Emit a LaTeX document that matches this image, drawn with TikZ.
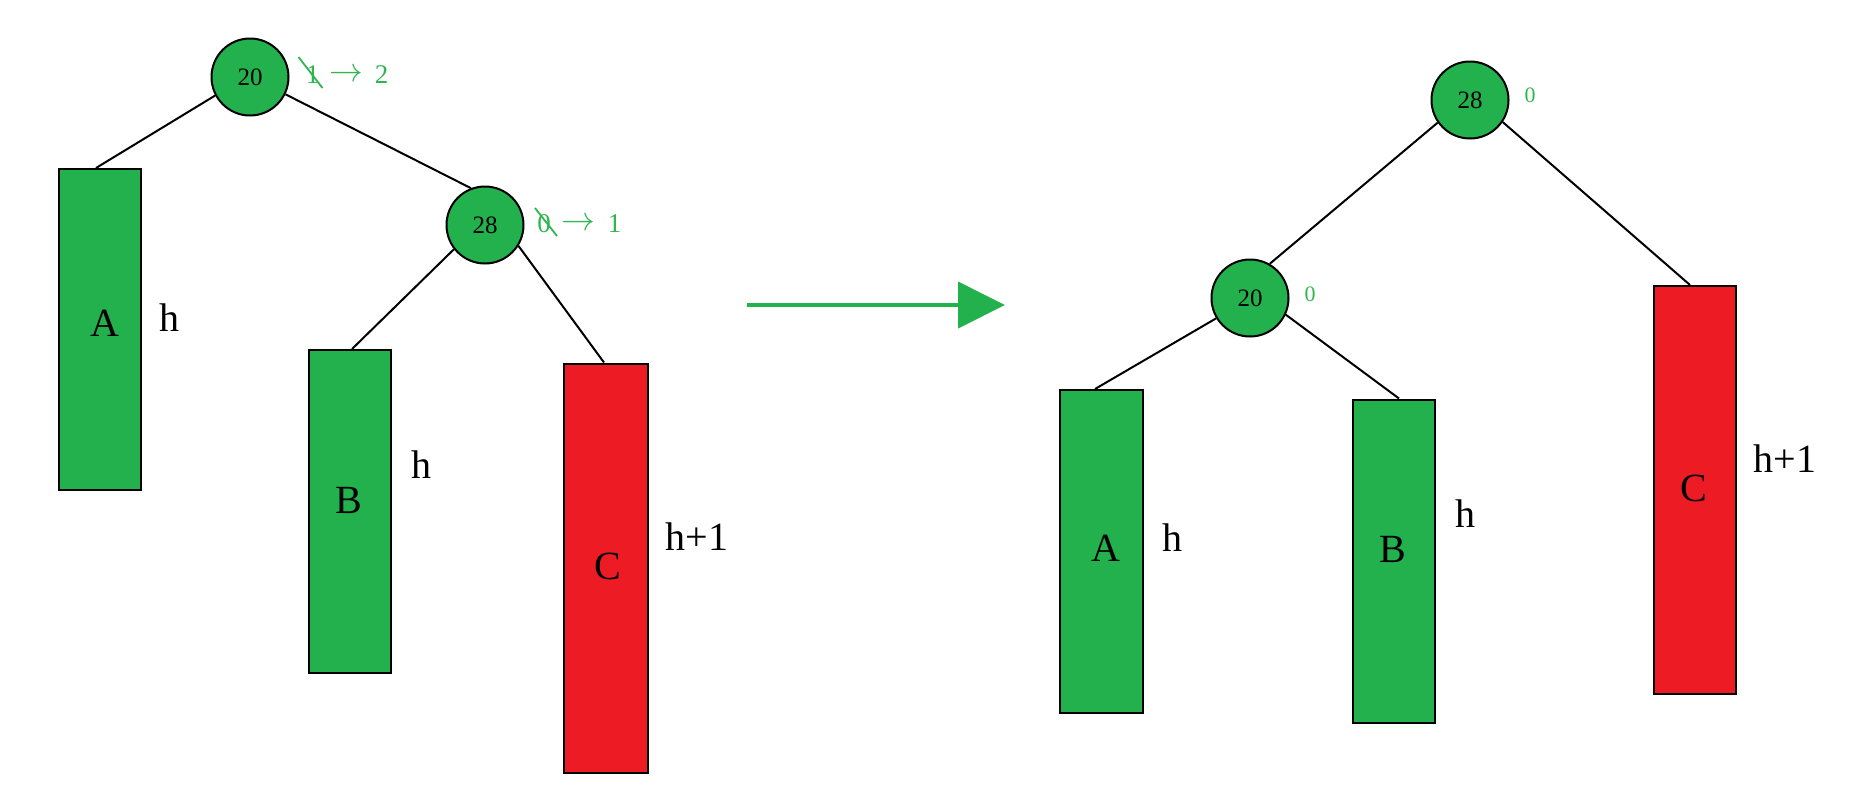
\RequirePackage{fix-cm}
\documentclass[tikz,border=0pt]{standalone}
\usepackage{fontspec}
\setmainfont{Liberation Serif}
\usetikzlibrary{arrows.meta}
\definecolor{boxgreen}{HTML}{22B14C}
\definecolor{boxred}{HTML}{ED1C24}
\definecolor{lblgreen}{HTML}{30B650}
\tikzset{
  keynode/.style={circle,draw=black,line width=2pt,fill=boxgreen,minimum size=77pt,inner sep=0pt,font=\fontsize{25}{28}\selectfont},
  subtree/.style={rectangle,draw=black,line width=2pt,minimum width=82pt,inner sep=0pt},
  gbox/.style={subtree,fill=boxgreen},
  rbox/.style={subtree,fill=boxred},
  boxlabel/.style={font=\fontsize{40}{44}\selectfont,inner sep=0pt},
  heightlabel/.style={font=\fontsize{40}{44}\selectfont,inner sep=0pt},
  bflabel/.style={text=lblgreen,font=\fontsize{27}{30}\selectfont,inner sep=0pt},
  bfsmall/.style={text=lblgreen,font=\fontsize{22}{24}\selectfont,inner sep=0pt},
  edge/.style={draw=black,line width=2pt},
  strike/.style={draw=lblgreen,line width=1.8pt},
  bigarrow/.style={draw=boxgreen,line width=4pt,-{Triangle[length=47pt,width=46pt]}}
}
\begin{document}
\begin{tikzpicture}[x=1pt,y=-1pt]
\useasboundingbox (0,0) rectangle (1875,807);
% ---------- left tree ----------
\node[gbox,minimum height=321pt] (AL) at (100,329.5) {};
\node[gbox,minimum height=323pt] (BL) at (350,511.5) {};
\node[rbox,minimum height=409pt,minimum width=84pt] (CL) at (606,568) {};
\node[keynode] (n20L) at (250,77) {20};
\node[keynode] (n28L) at (485,225) {28};
\draw[edge] ([xshift=-4pt]AL.north) -- (n20L.-152);
\draw[edge] (n20L.-26) -- (n28L.111);
\draw[edge] (n28L.-142) -- ([xshift=2pt]BL.north);
\draw[edge] (n28L.-32) -- ([xshift=-2pt]CL.north);
\node[boxlabel] (tA1) at (105,323) {A};
\node[heightlabel] (hA1) at (169,318) {h};
\node[boxlabel] (tB1) at (349,500) {B};
\node[heightlabel] (hB1) at (421,465) {h};
\node[boxlabel] (tC1) at (608,566) {C};
\node[heightlabel] (hC1) at (697,537) {h+1};
% balance factors, left tree
\node[bflabel] (bf20old) at (312.5,75) {1};
\node[bflabel] (bf20arr) at (346,75) {\scalebox{1.25}{$\rightarrow$}};
\node[bflabel] (bf20new) at (381.5,75) {2};
\draw[strike] ([shift={(-14,-18)}]bf20old.center) -- ([shift={(10,13)}]bf20old.center);
\node[bflabel] (bf28old) at (544,224) {0};
\node[bflabel] (bf28arr) at (578.5,224) {\scalebox{1.25}{$\rightarrow$}};
\node[bflabel] (bf28new) at (614.5,224) {1};
\draw[strike] ([shift={(-9,-16)}]bf28old.center) -- ([shift={(13,12)}]bf28old.center);
% ---------- transformation arrow ----------
\coordinate (arrS) at (747,305);
\coordinate (arrE) at (1005,305);
\draw[bigarrow] (arrS) -- (arrE);
% ---------- right tree ----------
\node[gbox,minimum height=323pt,minimum width=83pt] (AR) at (1101,551.5) {};
\node[gbox,minimum height=323pt] (BR) at (1394,561) {};
\node[rbox,minimum height=408pt] (CR) at (1695,490) {};
\node[keynode] (n28R) at (1470,100) {28};
\node[keynode] (n20R) at (1250,298) {20};
\draw[edge] (n28R.-145) -- (n20R.60);
\draw[edge] (n28R.-34) -- ([xshift=-5pt]CR.north);
\draw[edge] (n20R.-149) -- ([xshift=-6pt]AR.north);
\draw[edge] (n20R.-25) -- ([xshift=5pt]BR.north);
\node[boxlabel] (tA2) at (1106,548) {A};
\node[heightlabel] (hA2) at (1172,538) {h};
\node[boxlabel] (tB2) at (1393,549) {B};
\node[heightlabel] (hB2) at (1465,514) {h};
\node[boxlabel] (tC2) at (1694,488) {C};
\node[heightlabel] (hC2) at (1785,459) {h+1};
\node[bfsmall] (bf28R) at (1530,95) {0};
\node[bfsmall] (bf20R) at (1310,294) {0};
\end{tikzpicture}
\end{document}
